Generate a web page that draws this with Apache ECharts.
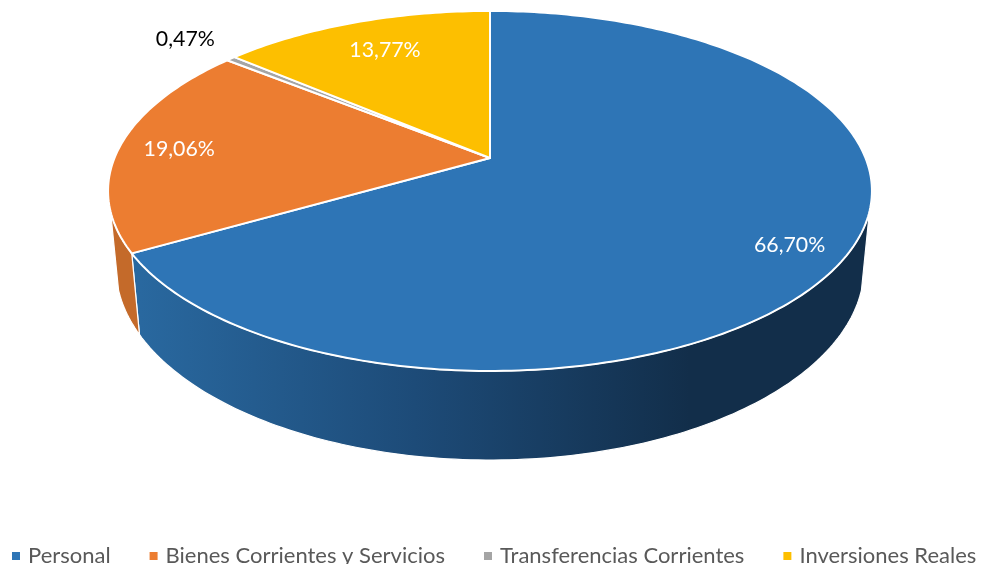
<!DOCTYPE html>
<html>
<head>
<meta charset="utf-8">
<title>Pie</title>
<style>html,body{margin:0;padding:0;background:#fff}#main{width:986px;height:564px}</style>
<script src="https://cdn.jsdelivr.net/npm/echarts@6/dist/echarts.min.js"></script>
</head>
<body>
<div id="main"></div>
<script>
var categories = ['Personal', 'Bienes Corrientes y Servicios', 'Transferencias Corrientes', 'Inversiones Reales'];
var values = [66.70, 19.06, 0.47, 13.77];
var labels = ['66,70%', '19,06%', '0,47%', '13,77%'];

var colors = ['#2E75B6', '#EC7D31', '#A5A5A5', '#FDBF00'];
var labelColors = ['#fff', '#fff', '#000', '#fff'];
// posicion de la etiqueta: radio relativo y ajuste vertical
var labelRadius = [0.85, 0.84, 1.2, 0.75];
var labelShift = [7, 2.5, -2, -3];

// disco superior e inferior, con perspectiva
var topDisc = {cx: 490, cy: 158, rx: 375.5, ry: 174, p: 0.183};
var baseDisc = {cx: 490, cy: 232.5, rx: 368, ry: 186.6, p: 0.18};
// angulos donde la pared lateral toca la silueta
var wallRight = 107;
var wallLeft = 253;

var total = values.reduce(function(a, b) {return a + b;}, 0);
var starts = [];
var sum = 0;
for (var i = 0; i < values.length; ++i) {
	starts.push(sum / total * 360);
	sum += values[i];
}

// angulo en grados, en sentido horario desde arriba
function project(d, deg, r) {
	var t = deg * Math.PI / 180;
	var w = 1 + d.p * r * Math.cos(t);
	return [d.cx + d.rx * r * Math.sin(t) / w, d.cy - d.ry * r * Math.cos(t) / w];
}

function arc(d, from, to) {
	var pts = [];
	var n = Math.max(2, Math.ceil(Math.abs(to - from)));
	for (var k = 0; k <= n; ++k) pts.push(project(d, from + (to - from) * k / n, 1));
	return pts;
}

var wallFill = [
	{type: 'linear', x: 140, y: 0, x2: 690, y2: 0, global: true, colorStops: [
		{offset: 0, color: '#29689F'},
		{offset: 0.5, color: '#1D4B78'},
		{offset: 1, color: '#122E4A'}
	]},
	'#C46A2A'
];

function renderSlice(idx) {
	return function(params, api) {
		var from = starts[idx];
		var to = from + api.value(0) / total * 360;
		var children = [];
		// cara lateral visible
		if (idx === 0 || idx === 1) {
			var a = idx === 0 ? wallRight : from;
			var b = idx === 0 ? to : wallLeft;
			var side = arc(topDisc, a, b).concat(arc(baseDisc, b, a));
			children.push({
				type: 'polygon',
				z2: 1,
				shape: {points: side},
				style: {fill: wallFill[idx], stroke: '#fff', lineWidth: 1.2}
			});
		}
		// cara superior
		var face = [[topDisc.cx, topDisc.cy]].concat(arc(topDisc, from, to));
		children.push({
			type: 'polygon',
			z2: 5,
			shape: {points: face},
			style: {fill: colors[idx], stroke: '#fff', lineWidth: 2, lineJoin: 'round'}
		});
		var pos = project(topDisc, (from + to) / 2, labelRadius[idx]);
		children.push({
			type: 'text',
			z2: 10,
			x: pos[0],
			y: pos[1] + labelShift[idx],
			style: {
				text: labels[idx],
				fill: labelColors[idx],
				font: '21.3px Lato',
				align: 'center',
				verticalAlign: 'middle'
			}
		});
		return {type: 'group', children: children};
	};
}

var series = [];
for (var s = 0; s < categories.length; ++s) {
	series.push({
		type: 'custom',
		name: categories[s],
		coordinateSystem: 'none',
		renderItem: renderSlice(s),
		itemStyle: {color: colors[s]},
		data: [[values[s]]],
		silent: true,
		animation: false
	});
}

var chart = echarts.init(document.getElementById('main'));
chart.setOption({
	animation: false,
	backgroundColor: '#fff',
	legend: {
		left: 7,
		top: 540,
		padding: 5,
		icon: 'rect',
		itemWidth: 8,
		itemHeight: 8,
		itemGap: 39,
		selectedMode: false,
		data: categories,
		textStyle: {color: '#595959', fontFamily: 'Lato', fontSize: 22, padding: [0, 0, 7, 3]}
	},
	series: series
});
</script>
</body>
</html>
